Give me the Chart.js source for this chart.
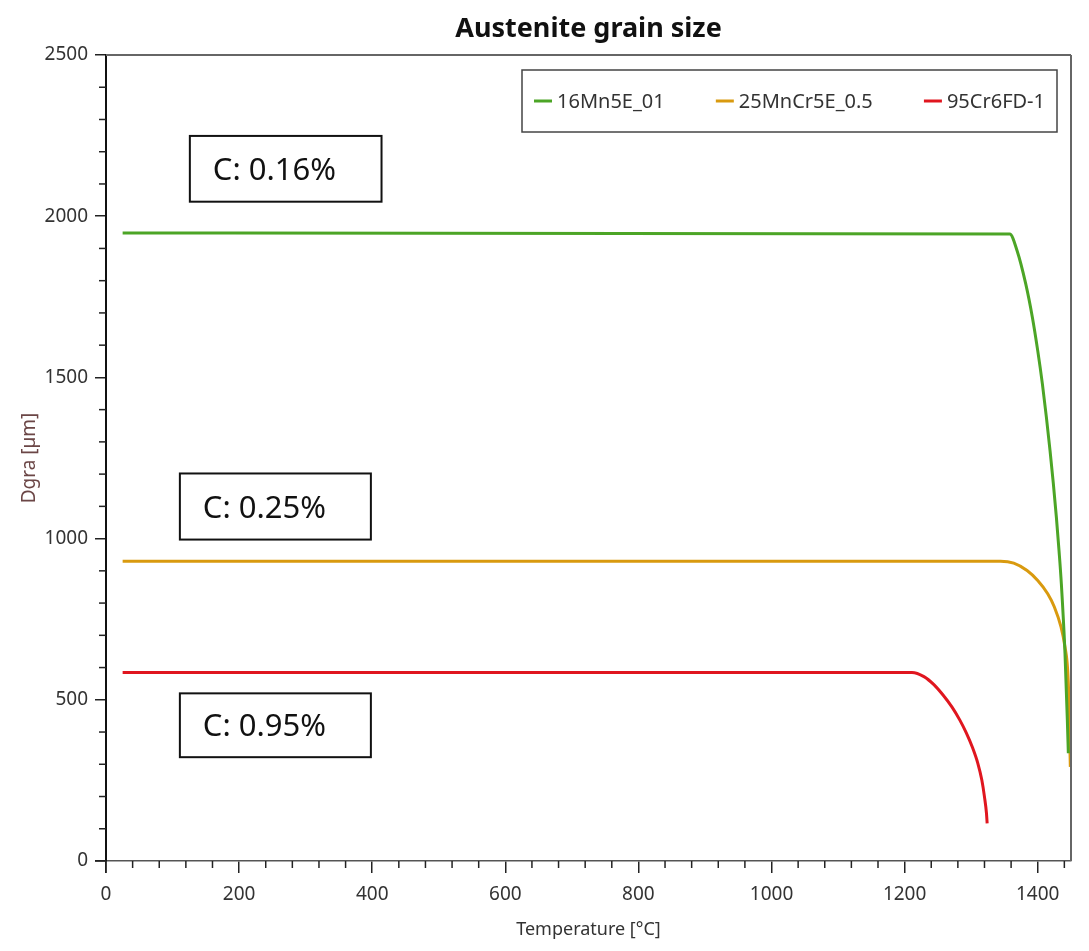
<!DOCTYPE html>
<html>
<head>
<meta charset="utf-8">
<title>Austenite grain size</title>
<script src="https://cdn.jsdelivr.net/npm/chart.js@4.4.0/dist/chart.umd.min.js"></script>
<style>
  body { margin: 0; background: #fff; }
  canvas { display: block; }
</style>
</head>
<body>
<canvas id="chart" width="1089" height="951"></canvas>
<script>
const FONT = "'Noto Sans', 'DejaVu Sans', sans-serif";

const seriesNames = ["16Mn5E_01", "25MnCr5E_0.5", "95Cr6FD-1"];
const seriesColors = ["#4ca526", "#d99a0f", "#e0161f"];

const tempTicks = [0, 200, 400, 600, 800, 1000, 1200, 1400];
const dgraTicks = [0, 500, 1000, 1500, 2000, 2500];

// temperature [°C] and grain size [µm] sampled along each curve
const temp16Mn5E = [25, 1358, 1369, 1382, 1392, 1400, 1407, 1413, 1418.5, 1423.5, 1428, 1432, 1435.5, 1441, 1444.5, 1446];
const dgra16Mn5E = [1948, 1945, 1893, 1790, 1686, 1583, 1480, 1377, 1273, 1170, 1067, 963, 860, 643, 437, 334];

const temp25MnCr5E = [25, 1344, 1364, 1384, 1400, 1415, 1425, 1435, 1441, 1445, 1447, 1448, 1449];
const dgra25MnCr5E = [930, 930, 924, 901, 870, 829, 788, 726, 664, 592, 489, 385, 292];

const temp95Cr6 = [25, 1211, 1229, 1244, 1258, 1271, 1283, 1293, 1302, 1310, 1316, 1320, 1323, 1324];
const dgra95Cr6 = [585, 585, 572, 547, 514, 478, 437, 396, 352, 303, 251, 199, 148, 117];

const carbonNotes = ["C: 0.16%", "C: 0.25%", "C: 0.95%"];
// note boxes in axis units: [tempFrom, tempTo, dgraTop, dgraBottom]
const noteBoxes = [
  [126, 414, 2249, 2045],
  [111, 398, 1202, 997],
  [111, 398, 520, 322],
];

const toPoints = (xs, ys) => xs.map((x, i) => ({ x, y: ys[i] }));
const curves = [
  toPoints(temp16Mn5E, dgra16Mn5E),
  toPoints(temp25MnCr5E, dgra25MnCr5E),
  toPoints(temp95Cr6, dgra95Cr6),
];

// title, frame, minor ticks, legend box and carbon notes
const decor = {
  id: "decor",
  afterDraw(chart) {
    const { ctx, chartArea: a, scales: { x, y } } = chart;
    const line = (x1, y1, x2, y2) => {
      ctx.beginPath();
      ctx.moveTo(x1, y1);
      ctx.lineTo(x2, y2);
      ctx.stroke();
    };
    ctx.save();

    ctx.fillStyle = "#111";
    ctx.font = "bold 27px " + FONT;
    ctx.textAlign = "center";
    ctx.textBaseline = "alphabetic";
    ctx.fillText("Austenite grain size", (a.left + a.right) / 2, 37);

    ctx.strokeStyle = "#666";
    ctx.lineWidth = 2;
    line(a.left, a.top, a.right, a.top);
    line(a.right, a.top, a.right, a.bottom);

    ctx.strokeStyle = "#222";
    ctx.lineWidth = 1.5;
    line(a.left - 11, a.bottom, a.left, a.bottom);
    line(a.left, a.bottom, a.left, a.bottom + 12);
    for (let t = 40; t < 1450; t += 40) {
      if (t % 200 === 0) continue;
      const px = x.getPixelForValue(t);
      line(px, a.bottom, px, a.bottom + 7);
    }
    for (let v = 100; v < 2500; v += 100) {
      if (v % 500 === 0) continue;
      const py = y.getPixelForValue(v);
      line(a.left - 7, py, a.left, py);
    }

    // legend
    ctx.font = "20px " + FONT;
    ctx.textAlign = "left";
    ctx.textBaseline = "middle";
    const boxW = 535, boxH = 62;
    const bx = a.right - 14 - boxW, by = a.top + 15;
    ctx.strokeStyle = "#444";
    ctx.lineWidth = 1.5;
    ctx.strokeRect(bx, by, boxW, boxH);
    const widths = seriesNames.map((n) => 18 + 5 + ctx.measureText(n).width);
    const gap = (boxW - 24 - widths.reduce((s, w) => s + w, 0)) / 2;
    let cx = bx + 12;
    const cy = by + boxH / 2;
    seriesNames.forEach((name, i) => {
      ctx.strokeStyle = seriesColors[i];
      ctx.lineWidth = 3;
      line(cx, cy, cx + 18, cy);
      ctx.fillStyle = "#333";
      ctx.fillText(name, cx + 23, cy + 1);
      cx += widths[i] + gap;
    });

    // carbon content notes
    ctx.font = "31px " + FONT;
    ctx.textBaseline = "alphabetic";
    ctx.strokeStyle = "#111";
    ctx.lineWidth = 2;
    noteBoxes.forEach(([t0, t1, d0, d1], i) => {
      const x0 = x.getPixelForValue(t0), x1 = x.getPixelForValue(t1);
      const y0 = y.getPixelForValue(d0), y1 = y.getPixelForValue(d1);
      ctx.fillStyle = "#fff";
      ctx.fillRect(x0, y0, x1 - x0, y1 - y0);
      ctx.strokeRect(x0, y0, x1 - x0, y1 - y0);
      ctx.fillStyle = "#111";
      ctx.fillText(carbonNotes[i], x0 + 23, (y0 + y1) / 2 + 11);
    });

    ctx.restore();
  },
};

new Chart(document.getElementById("chart"), {
  type: "line",
  data: {
    datasets: curves.map((data, i) => ({
      label: seriesNames[i],
      data,
      borderColor: seriesColors[i],
      borderWidth: 3,
      pointRadius: 0,
      cubicInterpolationMode: "monotone",
      fill: false,
    })),
  },
  options: {
    responsive: false,
    animation: false,
    layout: { padding: { top: 55, right: 18, left: 0, bottom: 0 } },
    plugins: {
      legend: { display: false },
      title: { display: false },
      tooltip: { enabled: false },
    },
    scales: {
      x: {
        type: "linear",
        min: 0,
        max: 1450,
        afterBuildTicks(s) {
          s.ticks = tempTicks.map((value) => ({ value }));
        },
        afterFit(s) {
          s.height = 90;
        },
        ticks: {
          padding: 10,
          color: "#333",
          font: { family: FONT, size: 19 },
          maxRotation: 0,
          autoSkip: false,
          callback: (v) => String(v),
        },
        grid: {
          drawOnChartArea: false,
          tickLength: 12,
          lineWidth: 1.5,
          color: "#222",
        },
        border: { color: "#555", width: 1.5 },
        title: {
          display: true,
          text: "Temperature [°C]",
          color: "#333",
          font: { family: FONT, size: 18 },
          padding: { top: 0, bottom: 10 },
        },
      },
      y: {
        min: 0,
        max: 2500,
        afterBuildTicks(s) {
          s.ticks = dgraTicks.map((value) => ({ value }));
        },
        afterFit(s) {
          s.width = 106;
        },
        ticks: {
          padding: 7,
          color: "#333",
          font: { family: FONT, size: 19 },
          autoSkip: false,
          callback: (v) => String(v),
        },
        grid: {
          drawOnChartArea: false,
          tickLength: 11,
          lineWidth: 1.5,
          color: "#222",
        },
        border: { color: "#111", width: 2 },
        title: {
          display: true,
          text: "Dgra [µm]",
          color: "#6b4646",
          font: { family: FONT, size: 19 },
          padding: { top: 18, bottom: 0 },
        },
      },
    },
  },
  plugins: [decor],
});
</script>
</body>
</html>
